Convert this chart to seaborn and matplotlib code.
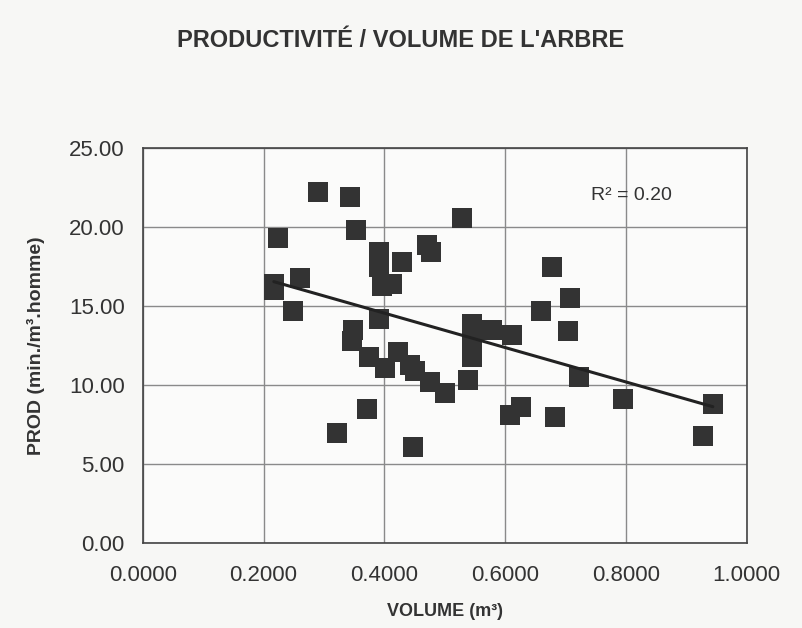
import matplotlib
matplotlib.use("Agg")
import matplotlib.pyplot as plt
import seaborn as sns
import pandas as pd

# volume de l'arbre (m3) et productivite (min./m3.homme)
volume = [0.217, 0.217, 0.224, 0.260, 0.248, 0.291, 0.344, 0.353, 0.392, 0.392,
          0.429, 0.396, 0.412, 0.470, 0.478, 0.528, 0.392, 0.348, 0.346, 0.374,
          0.401, 0.422, 0.442, 0.450, 0.475, 0.500, 0.538, 0.545, 0.546, 0.546,
          0.578, 0.611, 0.371, 0.321, 0.447, 0.608, 0.627, 0.677, 0.707, 0.660,
          0.704, 0.722, 0.682, 0.795, 0.944, 0.927]
prod = [16.4, 16.0, 19.3, 16.8, 14.7, 22.2, 21.9, 19.8, 18.4, 17.5,
        17.8, 16.3, 16.4, 18.9, 18.4, 20.6, 14.2, 13.5, 12.8, 11.8,
        11.1, 12.1, 11.3, 10.9, 10.2, 9.5, 10.3, 11.8, 13.9, 12.7,
        13.5, 13.2, 8.5, 7.0, 6.1, 8.1, 8.6, 17.5, 15.5, 14.7,
        13.4, 10.5, 8.0, 9.1, 8.8, 6.8]

x_ticks = [0.0, 0.2, 0.4, 0.6, 0.8, 1.0]
y_ticks = [0, 5, 10, 15, 20, 25]
r2_label = "R² = 0.20"

df = pd.DataFrame({"volume": volume, "prod": prod})

sns.set_style("whitegrid")
plt.rcParams['font.family'] = ['Liberation Sans', 'DejaVu Sans']

fig = plt.figure(figsize=(8.02, 6.28), dpi=100, facecolor="#f7f7f5")
ax = fig.add_axes([0.178, 0.135, 0.753, 0.629])
ax.set_facecolor("#fbfbfa")

sns.regplot(data=df, x="volume", y="prod", ax=ax, ci=None, marker="s",
            scatter_kws={"s": 200, "color": "#333333", "alpha": 1, "linewidths": 0},
            line_kws={"color": "#222222", "lw": 2.2})

ax.set_xlim(0, 1.0)
ax.set_ylim(0, 25)
ax.set_xticks(x_ticks)
ax.set_yticks(y_ticks)
ax.set_xticklabels([f"{v:.4f}" for v in x_ticks], fontsize=16, color="#333333")
ax.set_yticklabels([f"{v:.2f}" for v in y_ticks], fontsize=16, color="#333333")
ax.grid(True, color="#8a8a8a", lw=1)
ax.tick_params(axis="both", direction="out", length=7, width=1, color="#555555", pad=6)
ax.tick_params(axis="x", pad=9)
for s in ax.spines.values():
    s.set_color("#444444")
    s.set_linewidth(1.2)

ax.set_xlabel("VOLUME (m³)", fontsize=13, fontweight="bold", color="#333333", labelpad=12)
ax.set_ylabel("PROD (min./m³.homme)", fontsize=14, fontweight="bold", color="#333333", labelpad=17)
ax.text(0.81, 22.0, r2_label, fontsize=14, color="#333333", ha="center", va="center")

fig.text(0.5, 0.935, "PRODUCTIVITÉ / VOLUME DE L'ARBRE", fontsize=17, fontweight="bold",
         color="#333333", ha="center", va="center")

fig.savefig("out.png", dpi=100, facecolor=fig.get_facecolor())
